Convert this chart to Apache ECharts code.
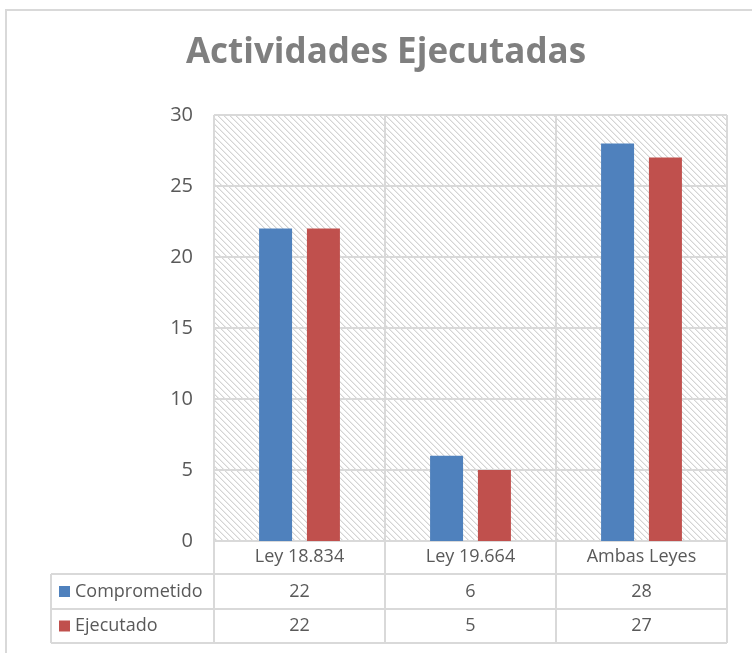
<!DOCTYPE html>
<html>
<head>
<meta charset="utf-8">
<script src="https://cdn.jsdelivr.net/npm/echarts@6/dist/echarts.min.js"></script>
<style>
  html, body { margin: 0; padding: 0; background: #fff; }
  #chart { width: 752px; height: 653px; }
</style>
</head>
<body>
<div id="chart"></div>
<script>
// data
const categories = ["Ley 18.834", "Ley 19.664", "Ambas Leyes"];
const seriesNames = ["Comprometido", "Ejecutado"];
const comprometido = [22, 6, 28];
const ejecutado = [22, 5, 27];
const seriesColors = ["#4f81bd", "#c0504d"];

const TEXT = "#595959";
const LINE = "#d9d9d9";
const FONT = '"Open Sans", sans-serif';

// plot box (the table hangs below it)
const GRID = { left: 214, right: 25, top: 115, bottom: 112 };
const W = 752, H = 653;
const plotLeft = GRID.left, plotRight = W - GRID.right, plotBottom = H - GRID.bottom;
const tableLeft = 51;
const rowLines = [574, 609, 643];

// downward diagonal hatch, like the Office pattern fill
function hatch() {
  const c = document.createElement("canvas");
  c.width = 6; c.height = 6;
  const ctx = c.getContext("2d");
  ctx.fillStyle = "#fff";
  ctx.fillRect(0, 0, 6, 6);
  for (let y = 0; y < 6; y++) {
    for (let x = 0; x < 6; x++) {
      const d = ((x - y) % 6 + 6) % 6;
      if (d === 0) { ctx.fillStyle = "#d4d4d4"; ctx.fillRect(x, y, 1, 1); }
      else if (d === 1) { ctx.fillStyle = "#ececec"; ctx.fillRect(x, y, 1, 1); }
    }
  }
  return c;
}

const chart = echarts.init(document.getElementById("chart"), null, { renderer: "canvas" });

chart.setOption({
  backgroundColor: "#fff",
  animation: false,
  title: {
    text: "Actividades Ejecutadas",
    left: 381, top: 31, textAlign: "center",
    textStyle: { color: "#7f7f7f", fontSize: 35, fontWeight: "bold", fontFamily: FONT }
  },
  grid: {
    ...GRID, show: true, borderWidth: 0,
    backgroundColor: { image: hatch(), repeat: "repeat" }
  },
  xAxis: {
    type: "category", data: categories,
    axisLine: { lineStyle: { color: LINE, width: 2 } },
    axisTick: { show: false },
    axisLabel: { color: TEXT, fontSize: 18, fontFamily: FONT, margin: 7 },
    splitLine: { show: true, lineStyle: { color: LINE, width: 2 } }
  },
  yAxis: {
    type: "value", min: 0, max: 30, interval: 5,
    axisLine: { show: false }, axisTick: { show: false },
    axisLabel: { color: TEXT, fontSize: 20, fontFamily: FONT, margin: 21 },
    splitLine: { lineStyle: { color: LINE, width: 2 } }
  },
  series: [
    { name: seriesNames[0], type: "bar", data: comprometido, barWidth: 33, barGap: "45%",
      itemStyle: { color: seriesColors[0] } },
    { name: seriesNames[1], type: "bar", data: ejecutado, barWidth: 33, barGap: "45%",
      itemStyle: { color: seriesColors[1] } }
  ]
});

// data table under the plot, placed with the category axis
const band = (plotRight - plotLeft) / categories.length;
const g = [];
g.push({ type: "rect", silent: true, shape: { x: 6, y: 10, width: 800, height: 700 },
  style: { fill: "none", stroke: LINE, lineWidth: 2 } });
for (let i = 0; i <= categories.length; i++) {
  const x = plotLeft + band * i;
  g.push({ type: "line", shape: { x1: x, y1: plotBottom, x2: x, y2: rowLines[2] },
    style: { stroke: LINE, lineWidth: 2 } });
}
rowLines.forEach((y) => g.push({ type: "line", shape: { x1: tableLeft, y1: y, x2: plotRight, y2: y },
  style: { stroke: LINE, lineWidth: 2 } }));
g.push({ type: "line", shape: { x1: tableLeft, y1: rowLines[0], x2: tableLeft, y2: rowLines[2] },
  style: { stroke: LINE, lineWidth: 2 } });

[comprometido, ejecutado].forEach((vals, r) => {
  const cy = (rowLines[r] + rowLines[r + 1]) / 2;
  g.push({ type: "rect", shape: { x: 59, y: cy - 5.5, width: 11, height: 11 },
    style: { fill: seriesColors[r] } });
  g.push({ type: "text", style: { text: seriesNames[r], x: 75, y: cy, fill: TEXT,
    fontSize: 18, fontFamily: FONT, align: "left", verticalAlign: "middle" } });
  vals.forEach((v, i) => {
    const cx = chart.convertToPixel({ xAxisIndex: 0 }, categories[i]);
    g.push({ type: "text", style: { text: String(v), x: cx, y: cy, fill: TEXT,
      fontSize: 18, fontFamily: FONT, align: "center", verticalAlign: "middle" } });
  });
});

chart.setOption({ graphic: g });
</script>
</body>
</html>
